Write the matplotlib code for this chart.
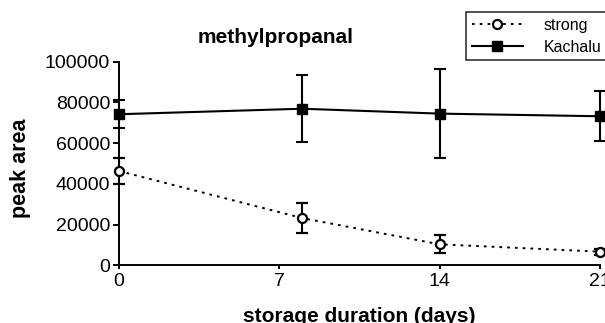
import matplotlib
matplotlib.use("Agg")
import matplotlib.pyplot as plt
from matplotlib.lines import Line2D

plt.rcParams['font.family'] = ['Liberation Sans', 'DejaVu Sans']

days = [0, 8, 14, 21]
strong = [46300, 23200, 10300, 6700]
strong_err = [6300, 7200, 4500, 1500]
kachalu = [74200, 76900, 74500, 73200]
kachalu_err = [7000, 16400, 22000, 12300]
xticks = [0, 7, 14, 21]
yticks = [0, 20000, 40000, 60000, 80000, 100000]

fig = plt.figure(figsize=(6.05, 3.23), dpi=100)
W, H = 605, 323
ax = fig.add_axes([119 / W, 1 - 265.3 / H, (600 - 119) / W, (265.3 - 61.7) / H])

LW = 1.5
ax.errorbar(days, kachalu, yerr=kachalu_err, color='black', lw=LW, marker='s',
            ms=7.5, mfc='black', mec='black', capsize=4.2, capthick=LW, elinewidth=LW,
            clip_on=False, zorder=3)
ax.errorbar(days, strong, yerr=strong_err, color='black', lw=1.4, ls=(0, (1.4, 2.6)),
            marker='o', ms=6.5, mfc='white', mec='black', mew=1.6, capsize=4.2,
            capthick=LW, elinewidth=LW, clip_on=False, zorder=3)

ax.set_xlim(0, 21)
ax.set_ylim(0, 100000)
ax.set_xticks(xticks)
ax.set_yticks(yticks)
ax.spines['top'].set_visible(False)
ax.spines['right'].set_visible(False)
for s in ('left', 'bottom'):
    ax.spines[s].set_linewidth(1.4)
ax.tick_params(axis='y', direction='out', length=4.3, width=1.4, labelsize=14, pad=2)
ax.tick_params(axis='x', direction='out', length=2.9, width=1.4, labelsize=14, pad=3)
ax.set_xlabel('storage duration (days)', fontsize=15, fontweight='bold')
ax.xaxis.set_label_coords(0.5, -(316 - 265.3) / (265.3 - 61.7), transform=ax.transAxes)
ax.set_ylabel('peak area', fontsize=15.5, fontweight='bold')
ax.yaxis.set_label_coords(-(119 - 21) / (600 - 119), 0.478, transform=ax.transAxes)
ax.xaxis.label.set_va('center')
ax.yaxis.label.set_va('center')

fig.text(276 / W, 1 - 37.5 / H, 'methylpropanal', fontsize=15, fontweight='bold',
         ha='center', va='center')

h_strong = Line2D([], [], color='black', lw=1.4, ls=(0, (1.4, 2.6)), marker='o', ms=6.5,
                  mfc='white', mec='black', mew=1.6)
h_kach = Line2D([], [], color='black', lw=LW, marker='s', ms=7.5, mfc='black', mec='black')
leg = fig.legend([h_strong, h_kach], ['strong', 'Kachalu'], loc='upper left',
                 bbox_to_anchor=(466 / W, 1 - 12 / H), fontsize=11.5,
                 frameon=True, fancybox=False, edgecolor='black',
                 borderpad=0.35, handlelength=3.2, labelspacing=0.45,
                 handletextpad=1.3, borderaxespad=0)
leg.get_frame().set_linewidth(1.2)

fig.savefig('out.png', dpi=100)
